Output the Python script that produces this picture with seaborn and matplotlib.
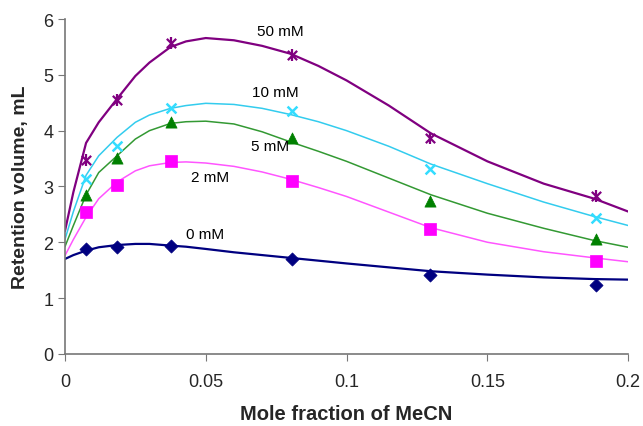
import pandas as pd
import matplotlib
matplotlib.use("Agg")
import matplotlib.pyplot as plt
import seaborn as sns

# measured points (mole fraction of MeCN vs retention volume)
x_points = [0.0075, 0.0185, 0.0375, 0.0805, 0.1295, 0.1885]
pts_50 = [3.48, 4.55, 5.57, 5.36, 3.87, 2.83]
pts_10 = [3.14, 3.73, 4.41, 4.35, 3.32, 2.44]
pts_5 = [2.85, 3.51, 4.16, 3.87, 2.74, 2.06]
pts_2 = [2.54, 3.03, 3.46, 3.10, 2.24, 1.67]
pts_0 = [1.88, 1.92, 1.94, 1.70, 1.42, 1.24]

# fitted curves
x_curve = [0, 0.003, 0.0075, 0.012, 0.0185, 0.025, 0.03, 0.0375, 0.043, 0.05, 0.06, 0.07,
           0.08, 0.09, 0.1, 0.115, 0.13, 0.15, 0.17, 0.188, 0.2]
fit_50 = [2.20, 2.90, 3.78, 4.15, 4.57, 4.98, 5.22, 5.50, 5.60, 5.66, 5.62, 5.52,
          5.38, 5.16, 4.90, 4.45, 3.95, 3.45, 3.05, 2.78, 2.55]
fit_10 = [2.05, 2.55, 3.20, 3.55, 3.88, 4.15, 4.28, 4.40, 4.45, 4.49, 4.47, 4.40,
          4.29, 4.16, 4.00, 3.72, 3.40, 3.05, 2.72, 2.46, 2.30]
fit_5 = [1.92, 2.30, 2.85, 3.25, 3.55, 3.85, 4.00, 4.13, 4.16, 4.17, 4.12, 3.98,
         3.80, 3.63, 3.45, 3.15, 2.85, 2.52, 2.25, 2.03, 1.91]
fit_2 = [1.76, 2.05, 2.45, 2.78, 3.08, 3.28, 3.37, 3.43, 3.44, 3.42, 3.36, 3.26,
         3.13, 2.98, 2.82, 2.54, 2.26, 2.00, 1.83, 1.72, 1.65]
fit_0 = [1.70, 1.77, 1.85, 1.91, 1.95, 1.97, 1.97, 1.94, 1.92, 1.88, 1.82, 1.77,
         1.72, 1.67, 1.62, 1.55, 1.48, 1.42, 1.37, 1.34, 1.33]

labels = ["50 mM", "10 mM", "5 mM", "2 mM", "0 mM"]
points = [pts_50, pts_10, pts_5, pts_2, pts_0]
fits = [fit_50, fit_10, fit_5, fit_2, fit_0]
line_colors = ["#800080", "#33CCEE", "#339933", "#FF55FF", "#000080"]
marker_colors = ["#800080", "#33DDFF", "#008000", "#FF00FF", "#000080"]
markers = [None, "x", "^", "s", "D"]
label_pos = [(0.0764, 5.79), (0.0746, 4.69), (0.0728, 3.73), (0.0515, 3.17), (0.0497, 2.15)]

sns.set_style("ticks")
plt.rcParams["font.family"] = ["Liberation Sans", "DejaVu Sans"]

fig = plt.figure(figsize=(6.43, 4.27), dpi=100)
ax = fig.add_axes([0.101, 0.169, 0.876, 0.784])

for lab, pts, fit, lc, mc, mk in zip(labels, points, fits, line_colors, marker_colors, markers):
    df_fit = pd.DataFrame({"x": x_curve, "y": fit})
    df_pts = pd.DataFrame({"x": x_points, "y": pts})
    lw = 1.6 if lab in ("50 mM", "0 mM") else 1.1
    sns.lineplot(data=df_fit, x="x", y="y", color=lc, linewidth=lw, ax=ax)
    if mk is None:
        # excel style star: x with a vertical bar
        sns.scatterplot(data=df_pts, x="x", y="y", marker="x", s=45, color=mc,
                        linewidth=1.6, ax=ax, zorder=3)
        sns.scatterplot(data=df_pts, x="x", y="y", marker="|", s=70, color=mc,
                        linewidth=1.6, ax=ax, zorder=3)
    elif mk == "x":
        sns.scatterplot(data=df_pts, x="x", y="y", marker="x", s=50, color=mc,
                        linewidth=1.8, ax=ax, zorder=3)
    else:
        size = 45 if mk == "D" else 65
        sns.scatterplot(data=df_pts, x="x", y="y", marker=mk, s=size, color=mc,
                        edgecolor=mc, linewidth=0.5, ax=ax, zorder=3)

for lab, (tx, ty) in zip(labels, label_pos):
    ax.text(tx, ty, lab, ha="center", va="center", fontsize=11, color="black")

ax.set_xlim(0, 0.2)
ax.set_ylim(0, 6)
ax.set_xticks([0, 0.05, 0.1, 0.15, 0.2])
ax.set_xticklabels(["0", "0.05", "0.1", "0.15", "0.2"])
ax.set_yticks(range(0, 7))
ax.tick_params(axis="both", labelsize=13, length=5, color="#777777", direction="out")
ax.tick_params(axis="x", pad=9)
for side in ("top", "right"):
    ax.spines[side].set_visible(False)
for side in ("left", "bottom"):
    ax.spines[side].set_color("#777777")
    ax.spines[side].set_linewidth(1.2)

ax.set_xlabel("Mole fraction of MeCN", fontsize=14.5, fontweight="bold", labelpad=10)
ax.set_ylabel("Retention volume, mL", fontsize=14, fontweight="bold", labelpad=10)

fig.savefig("out.png", dpi=100)
